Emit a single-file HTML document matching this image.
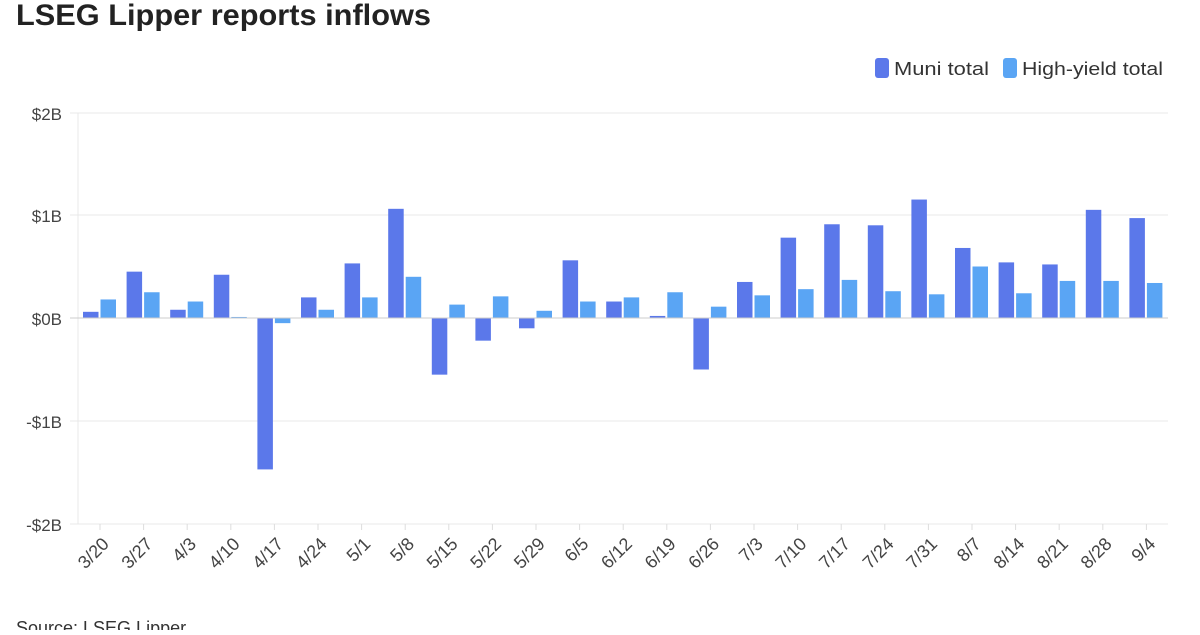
<!DOCTYPE html>
<html><head><meta charset="utf-8"><style>
body{margin:0;background:#fff;width:1200px;height:630px;overflow:hidden;font-family:"Liberation Sans",sans-serif}
</style></head><body>
<svg id="s" width="1200" height="630" xmlns="http://www.w3.org/2000/svg" font-family="Liberation Sans, sans-serif">
<text x="16" y="25" font-size="30" font-weight="bold" fill="#222" textLength="415" lengthAdjust="spacingAndGlyphs">LSEG Lipper reports inflows</text>
<rect x="875" y="58" width="14" height="20" rx="3" fill="#5b78ea"/>
<text x="894" y="75" font-size="18" fill="#333" textLength="95" lengthAdjust="spacingAndGlyphs">Muni total</text>
<rect x="1003" y="58" width="14" height="20" rx="3" fill="#5aa5f4"/>
<text x="1022" y="75" font-size="18" fill="#333" textLength="141" lengthAdjust="spacingAndGlyphs">High-yield total</text>
<g stroke="#e8e8e8" stroke-width="1">
<line x1="70" x2="1168" y1="113" y2="113"/><line x1="70" x2="1168" y1="215" y2="215"/>
<line x1="70" x2="1168" y1="421" y2="421"/><line x1="70" x2="1168" y1="524" y2="524"/>
<line x1="78" x2="78" y1="113" y2="524"/>
</g>
<g font-size="17" fill="#444" text-anchor="end">
<text x="62" y="120">$2B</text><text x="62" y="222">$1B</text><text x="62" y="325">$0B</text>
<text x="62" y="428">-$1B</text><text x="62" y="531">-$2B</text>
</g>
<g id="bars"></g>
<line x1="70" x2="1168" y1="318" y2="318" stroke="#ccc"/>
<g id="ticks" stroke="#ddd"></g>
<g font-size="18" fill="#444" text-anchor="end">
<text transform="translate(110,545) rotate(-45)">3/20</text>
<text transform="translate(153.6,545) rotate(-45)">3/27</text>
<text transform="translate(197.2,545) rotate(-45)">4/3</text>
<text transform="translate(240.8,545) rotate(-45)">4/10</text>
<text transform="translate(284.4,545) rotate(-45)">4/17</text>
<text transform="translate(328,545) rotate(-45)">4/24</text>
<text transform="translate(371.6,545) rotate(-45)">5/1</text>
<text transform="translate(415.2,545) rotate(-45)">5/8</text>
<text transform="translate(458.8,545) rotate(-45)">5/15</text>
<text transform="translate(502.4,545) rotate(-45)">5/22</text>
<text transform="translate(546,545) rotate(-45)">5/29</text>
<text transform="translate(589.6,545) rotate(-45)">6/5</text>
<text transform="translate(633.2,545) rotate(-45)">6/12</text>
<text transform="translate(676.8,545) rotate(-45)">6/19</text>
<text transform="translate(720.4,545) rotate(-45)">6/26</text>
<text transform="translate(764,545) rotate(-45)">7/3</text>
<text transform="translate(807.6,545) rotate(-45)">7/10</text>
<text transform="translate(851.2,545) rotate(-45)">7/17</text>
<text transform="translate(894.8,545) rotate(-45)">7/24</text>
<text transform="translate(938.4,545) rotate(-45)">7/31</text>
<text transform="translate(982,545) rotate(-45)">8/7</text>
<text transform="translate(1025.6,545) rotate(-45)">8/14</text>
<text transform="translate(1069.2,545) rotate(-45)">8/21</text>
<text transform="translate(1112.8,545) rotate(-45)">8/28</text>
<text transform="translate(1156.4,545) rotate(-45)">9/4</text>
</g>
<text x="16" y="634" font-size="18" fill="#333">Source: LSEG Lipper</text>
</svg>
<script>
var m=[0.06,0.45,0.08,0.42,-1.47,0.2,0.53,1.06,-0.55,-0.22,-0.1,0.56,0.16,0.02,-0.5,0.35,0.78,0.91,0.9,1.15,0.68,0.54,0.52,1.05,0.97];
var h=[0.18,0.25,0.16,0.01,-0.05,0.08,0.2,0.4,0.13,0.21,0.07,0.16,0.2,0.25,0.11,0.22,0.28,0.37,0.26,0.23,0.5,0.24,0.36,0.36,0.34];
var ns="http://www.w3.org/2000/svg",g=document.getElementById("bars"),t=document.getElementById("ticks");
function r(x,v,c){var e=document.createElementNS(ns,"rect");var y=318-v*103;e.setAttribute("x",x);e.setAttribute("width",15.5);e.setAttribute("y",Math.min(y,318));e.setAttribute("height",Math.max(Math.abs(v*103),1));e.setAttribute("fill",c);g.appendChild(e);}
for(var i=0;i<25;i++){var c=100+43.6*i;r(c-17,m[i],"#5b78ea");r(c+0.5,h[i],"#5aa5f4");
var l=document.createElementNS(ns,"line");l.setAttribute("x1",c);l.setAttribute("x2",c);l.setAttribute("y1",524);l.setAttribute("y2",530);t.appendChild(l);}
</script>
</body></html>
